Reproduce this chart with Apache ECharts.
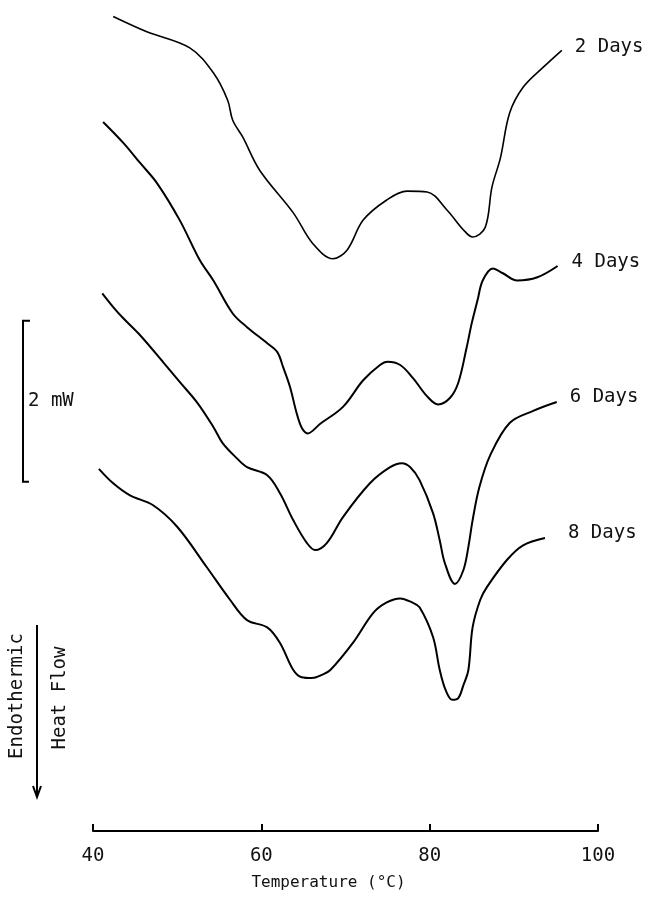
<!DOCTYPE html>
<html>
<head>
<meta charset="utf-8">
<script src="https://cdn.jsdelivr.net/npm/echarts@6/dist/echarts.min.js"></script>
<style>
  html, body { margin: 0; background: #fff; }
  #main { width: 652px; height: 897px; }
</style>
</head>
<body>
<div id="main"></div>
<script>
// temperature (°C) and heat flow (mW, arbitrary offset, endotherm down)
var temp2Days = [42.4, 46.4, 51.5, 54.3, 56.0, 56.6, 57.8, 59.8, 63.8, 66.1, 68.5, 70.2, 72.1, 74.9, 77.3, 79.7, 82.1, 84.0, 85.1, 86.6, 87.4, 88.4, 89.5, 91.1, 93.5, 95.7];
var flow2Days = [10.12, 9.93, 9.73, 9.42, 9.08, 8.83, 8.62, 8.21, 7.68, 7.30, 7.11, 7.22, 7.59, 7.84, 7.95, 7.94, 7.71, 7.47, 7.38, 7.50, 8.00, 8.36, 8.92, 9.24, 9.49, 9.70];

var temp4Days = [41.2, 43.6, 45.6, 47.6, 50.3, 52.7, 54.3, 56.6, 58.3, 60.7, 61.9, 62.6, 63.4, 64.2, 64.8, 65.5, 67.0, 69.7, 72.1, 74.1, 75.0, 76.5, 78.0, 79.7, 81.0, 82.4, 83.4, 84.4, 85.0, 85.7, 86.3, 87.5, 88.7, 90.4, 92.8, 95.2];
var flow4Days = [8.81, 8.55, 8.30, 8.05, 7.59, 7.09, 6.84, 6.43, 6.26, 6.06, 5.95, 5.76, 5.52, 5.19, 5.01, 4.94, 5.06, 5.27, 5.60, 5.79, 5.83, 5.79, 5.63, 5.40, 5.30, 5.38, 5.57, 6.01, 6.31, 6.60, 6.84, 6.99, 6.93, 6.84, 6.88, 7.02];

var temp6Days = [41.1, 42.4, 43.6, 45.6, 48.3, 50.3, 52.4, 54.3, 55.4, 57.1, 58.3, 60.7, 62.2, 63.8, 65.4, 66.4, 67.8, 69.7, 72.9, 75.3, 76.7, 77.7, 78.8, 80.4, 81.2, 81.8, 83.0, 84.0, 84.6, 85.1, 85.9, 87.2, 89.5, 92.3, 95.1];
var flow6Days = [6.68, 6.51, 6.37, 6.16, 5.83, 5.58, 5.32, 5.02, 4.82, 4.63, 4.52, 4.42, 4.20, 3.86, 3.58, 3.49, 3.58, 3.90, 4.32, 4.52, 4.57, 4.52, 4.36, 3.95, 3.61, 3.33, 3.07, 3.24, 3.53, 3.86, 4.27, 4.67, 5.07, 5.22, 5.33];

var temp8Days = [40.7, 42.4, 44.4, 47.1, 50.0, 53.5, 56.3, 58.3, 60.7, 62.2, 63.8, 64.8, 66.0, 67.2, 68.2, 70.9, 73.3, 74.9, 76.5, 77.9, 78.8, 80.4, 81.2, 81.9, 82.7, 83.4, 84.0, 84.6, 85.1, 86.0, 86.8, 89.2, 91.1, 93.7];
var flow8Days = [4.50, 4.32, 4.17, 4.05, 3.78, 3.28, 2.87, 2.62, 2.53, 2.34, 2.00, 1.91, 1.90, 1.94, 2.00, 2.34, 2.71, 2.84, 2.89, 2.84, 2.78, 2.41, 2.00, 1.75, 1.63, 1.65, 1.81, 2.00, 2.53, 2.87, 3.03, 3.37, 3.55, 3.64];

var curveNames = ['2 Days', '4 Days', '6 Days', '8 Days'];
var xTicks = [40, 60, 80, 100];
var scaleBarMw = [4.34, 6.34]; // the 2 mW bracket

var font = '"DejaVu Sans Mono", monospace';

function pairs(xs, ys) {
    return xs.map(function (x, i) { return [x, ys[i]]; });
}

var curves = [
    { name: curveNames[0], data: pairs(temp2Days, flow2Days), width: 1.6, dist: 13, off: [0, -3] },
    { name: curveNames[1], data: pairs(temp4Days, flow4Days), width: 2, dist: 14, off: [0, -4] },
    { name: curveNames[2], data: pairs(temp6Days, flow6Days), width: 2, dist: 13, off: [0, -5] },
    { name: curveNames[3], data: pairs(temp8Days, flow8Days), width: 2, dist: 23, off: [0, -5] }
];

var chartDom = document.getElementById('main');
var myChart = echarts.init(chartDom);
var option;

option = {
    backgroundColor: '#fff',
    animation: false,
    grid: { left: 93, right: 54, top: 2, bottom: 66 },
    xAxis: {
        type: 'value',
        min: xTicks[0],
        max: xTicks[xTicks.length - 1],
        interval: 20,
        name: 'Temperature (°C)',
        nameLocation: 'middle',
        nameGap: 44,
        nameTextStyle: { fontFamily: font, fontSize: 16, color: '#111', padding: [0, 34, 0, 0] },
        axisLine: { lineStyle: { color: '#000', width: 2 } },
        axisTick: { inside: true, length: 7, lineStyle: { color: '#000', width: 2 } },
        axisLabel: { fontFamily: font, fontSize: 19, color: '#111', margin: 16 },
        splitLine: { show: false }
    },
    yAxis: {
        type: 'value',
        min: 0,
        max: 10.3,
        show: false
    },
    series: curves.map(function (c) {
        return {
            name: c.name,
            type: 'line',
            data: c.data,
            showSymbol: false,
            smooth: 0.35,
            clip: false,
            lineStyle: { color: '#000', width: c.width },
            endLabel: {
                show: true,
                formatter: '{a}',
                fontFamily: font,
                fontSize: 19,
                color: '#111',
                distance: c.dist,
                offset: c.off
            }
        };
    })
};

option && myChart.setOption(option);

// scale bar, arrow and side texts
var barTop = myChart.convertToPixel({ yAxisIndex: 0 }, scaleBarMw[1]);
var barBottom = myChart.convertToPixel({ yAxisIndex: 0 }, scaleBarMw[0]);
var barX = 23;

myChart.setOption({
    graphic: [
        {
            type: 'polyline',
            shape: { points: [[barX + 7, barTop], [barX, barTop], [barX, barBottom], [barX + 6, barBottom]] },
            style: { stroke: '#000', lineWidth: 2, fill: null }
        },
        {
            type: 'text',
            left: barX + 5,
            top: (barTop + barBottom) / 2 - 10,
            style: { text: '2 mW', font: '19px ' + font, fill: '#111' }
        },
        {
            type: 'line',
            shape: { x1: 37, y1: 625, x2: 37, y2: 797 },
            style: { stroke: '#000', lineWidth: 2 }
        },
        {
            type: 'polyline',
            shape: { points: [[33, 786], [37, 797], [41, 786]] },
            style: { stroke: '#000', lineWidth: 2, fill: null }
        },
        {
            type: 'text',
            x: 17,
            y: 696,
            rotation: Math.PI / 2,
            style: { text: 'Endothermic', font: '19px ' + font, fill: '#111', align: 'center', verticalAlign: 'middle' }
        },
        {
            type: 'text',
            x: 60,
            y: 698,
            rotation: Math.PI / 2,
            style: { text: 'Heat Flow', font: '19px ' + font, fill: '#111', align: 'center', verticalAlign: 'middle' }
        }
    ]
});
</script>
</body>
</html>
